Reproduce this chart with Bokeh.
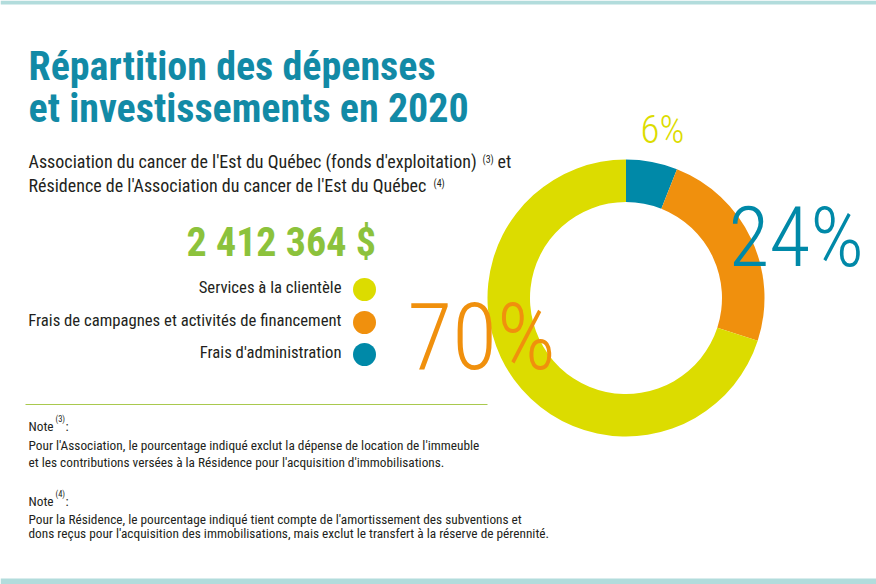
import math
from bokeh.plotting import figure
from bokeh.models import Range1d
from bokeh.core.properties import value
from bokeh.embed import file_html
from bokeh.resources import INLINE

# ---------------- data ----------------
categories = ["Services à la clientèle",
              "Frais de campagnes et activités de financement",
              "Frais d'administration"]
values = [70, 24, 6]
colors = ["#dcdc00", "#f0900d", "#0089a8"]
pct_labels = ["70%", "24%", "6%"]
pct_label_colors = ["#f0900d", "#0089a8", "#dcdc00"]
total_label = "2 412 364 $"
title_lines = ["Répartition des dépenses", "et investissements en 2020"]
subtitle_lines = ["Association du cancer de l'Est du Québec (fonds d'exploitation)",
                  "Résidence de l'Association du cancer de l'Est du Québec"]
note3_lines = ["Pour l'Association, le pourcentage indiqué exclut la dépense de location de l'immeuble",
               "et les contributions versées à la Résidence pour l'acquisition d'immobilisations."]
note4_lines = ["Pour la Résidence, le pourcentage indiqué tient compte de l'amortissement des subventions et",
               "dons reçus pour l'acquisition des immobilisations, mais exclut le transfert à la réserve de pérennité."]

FONT = value("Roboto Condensed, DejaVu Sans Condensed, Roboto")
LIGHT = value("Roboto Condensed Light, Roboto Light, Lato Light, Roboto")
TEAL = "#128aa6"
DARK = "#231f20"
GREEN = "#8cc23c"
BAR = "#b2dcdc"

W, H = 876, 584
p = figure(width=W, height=H, x_range=Range1d(0, W), y_range=Range1d(0, H),
           output_backend="svg", toolbar_location=None, min_border=0)
p.axis.visible = False
p.xgrid.visible = False
p.ygrid.visible = False
p.outline_line_color = None
p.background_fill_color = "white"
p.border_fill_color = "white"


def Y(py):
    return H - py


def txt(xs, ys, texts, size, color=DARK, font=FONT, style="normal", align="left"):
    p.text(x=xs, y=[Y(v) for v in ys], text=texts, text_font=font,
           text_font_size=f"{size}px", text_font_style=style, text_color=color,
           text_align=align, text_baseline="middle")


# decorative bars
p.quad(left=[0, 0], right=[W, W], top=[Y(0), Y(578)], bottom=[Y(4), Y(584)],
       fill_color=BAR, line_color=None)

# title
txt([28, 28], [66, 108], title_lines, 40, TEAL, style="bold")

# subtitle
txt([28, 28], [161, 185], subtitle_lines, 18)
txt([482, 433], [159, 183], ["(3)", "(4)"], 10)
txt([497], [161], ["et"], 18)

# total
txt([186], [241.5], [total_label], 40, GREEN, style="bold")

# legend
leg_py = [289, 322, 354]
txt([341] * 3, [287, 320, 352], categories, 16.7, align="right")
p.scatter(x=[364] * 3, y=[Y(v) for v in leg_py], size=23, marker="circle",
          fill_color=colors, line_color=None)

# divider
p.segment(x0=[25], y0=[Y(404)], x1=[487], y1=[Y(404)], line_color="#a9c94e", line_width=1)

# notes
txt([28, 28], [425.5, 500.5], ["Note", "Note"], 13.3)
txt([55, 55], [418, 493], ["(3)", "(4)"], 8.5)
txt([65, 65], [425.5, 500.5], [":", ":"], 13.3)
txt([28, 28], [445, 461.5], note3_lines, 13.3)
txt([28, 28], [518.5, 533], note4_lines, 13.3)

# donut (clockwise from top: last category first)
cx, cy = 625.5, Y(297.5)
order = list(reversed(range(len(values))))
total = sum(values)
starts, ends, fills = [], [], []
cum = 0
for i in order:
    starts.append(math.pi / 2 - 2 * math.pi * cum / total)
    cum += values[i]
    ends.append(math.pi / 2 - 2 * math.pi * cum / total)
    fills.append(colors[i])
p.annular_wedge(x=[cx] * 3, y=[cy] * 3, inner_radius=96, outer_radius=138.5,
                start_angle=starts, end_angle=ends, direction="clock",
                fill_color=fills, line_color=None)

# percentage labels
txt([407], [336.5], [pct_labels[0]], 92, pct_label_colors[0], font=LIGHT)
txt([728], [237], [pct_labels[1]], 84, pct_label_colors[1], font=LIGHT)
txt([640], [129], [pct_labels[2]], 39, pct_label_colors[2], font=LIGHT)

open("out.html", "w").write(file_html(p, INLINE))
